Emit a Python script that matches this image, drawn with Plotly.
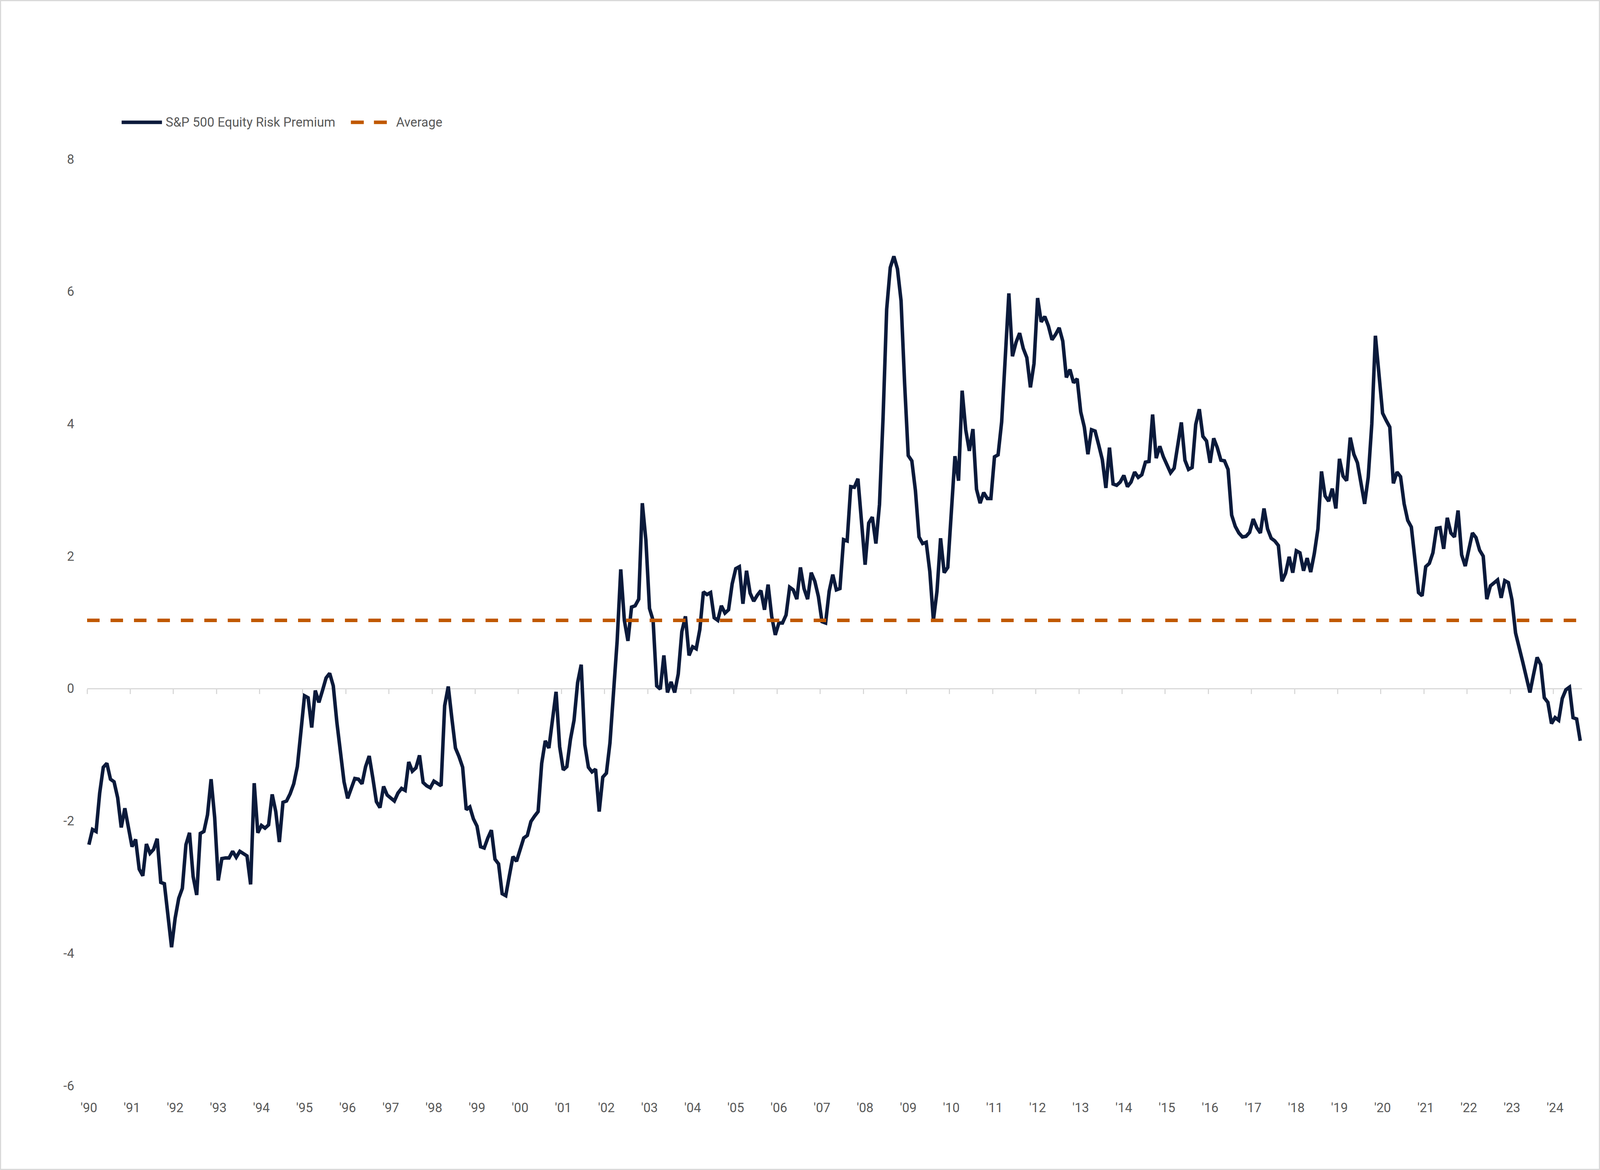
import plotly.graph_objects as go

# ---------------- data ----------------
YEAR_LABELS = ["'90", "'91", "'92", "'93", "'94", "'95", "'96", "'97", "'98", "'99",
               "'00", "'01", "'02", "'03", "'04", "'05", "'06", "'07", "'08", "'09",
               "'10", "'11", "'12", "'13", "'14", "'15", "'16", "'17", "'18", "'19",
               "'20", "'21", "'22", "'23", "'24"]

# Monthly S&P 500 equity risk premium, Jan 1990 - Aug 2024
ERP = [
    -2.36, -2.13, -2.16, -1.58, -1.19, -1.13, -1.37, -1.41, -1.65, -2.10, -1.81, -2.13,  # 1990
    -2.39, -2.28, -2.73, -2.83, -2.35, -2.49, -2.43, -2.27, -2.93, -2.95, -3.45, -3.91,  # 1991
    -3.47, -3.17, -3.02, -2.36, -2.18, -2.84, -3.12, -2.19, -2.16, -1.91, -1.37, -1.95,  # 1992
    -2.90, -2.57, -2.56, -2.56, -2.46, -2.55, -2.46, -2.49, -2.53, -2.96, -1.43, -2.18,  # 1993
    -2.07, -2.11, -2.06, -1.60, -1.86, -2.32, -1.72, -1.70, -1.59, -1.44, -1.18, -0.65,  # 1994
    -0.11, -0.14, -0.59, -0.03, -0.21, -0.03, 0.16, 0.23, 0.04, -0.51, -0.99, -1.41,     # 1995
    -1.66, -1.51, -1.36, -1.37, -1.44, -1.18, -1.02, -1.35, -1.71, -1.80, -1.48, -1.61,  # 1996
    -1.66, -1.70, -1.58, -1.51, -1.54, -1.11, -1.25, -1.20, -1.01, -1.42, -1.47, -1.50,  # 1997
    -1.40, -1.44, -1.47, -0.26, 0.03, -0.45, -0.90, -1.03, -1.19, -1.83, -1.79, -1.97,   # 1998
    -2.08, -2.39, -2.41, -2.26, -2.14, -2.58, -2.65, -3.10, -3.13, -2.83, -2.54, -2.61,  # 1999
    -2.43, -2.26, -2.22, -2.01, -1.93, -1.86, -1.13, -0.79, -0.90, -0.43, -0.05, -0.88,  # 2000
    -1.23, -1.18, -0.77, -0.48, 0.09, 0.36, -0.85, -1.19, -1.26, -1.22, -1.86, -1.34,    # 2001
    -1.28, -0.82, -0.12, 0.72, 1.80, 1.03, 0.72, 1.23, 1.25, 1.35, 2.80, 2.24,           # 2002
    1.21, 1.03, 0.04, -0.01, 0.50, -0.06, 0.10, -0.06, 0.22, 0.86, 1.09, 0.50,           # 2003
    0.63, 0.60, 0.89, 1.46, 1.42, 1.45, 1.07, 1.03, 1.25, 1.14, 1.19, 1.58,              # 2004
    1.81, 1.84, 1.28, 1.78, 1.44, 1.32, 1.41, 1.48, 1.19, 1.57, 1.09, 0.81,              # 2005
    0.99, 0.99, 1.11, 1.53, 1.49, 1.35, 1.83, 1.51, 1.35, 1.75, 1.62, 1.39,              # 2006
    1.01, 0.99, 1.47, 1.72, 1.49, 1.51, 2.25, 2.23, 3.05, 3.04, 3.17, 2.44,              # 2007
    1.87, 2.50, 2.59, 2.19, 2.78, 4.10, 5.73, 6.36, 6.53, 6.34, 5.86, 4.60,              # 2008
    3.52, 3.44, 2.99, 2.29, 2.19, 2.21, 1.77, 1.03, 1.47, 2.27, 1.75, 1.83,              # 2009
    2.78, 3.51, 3.14, 4.50, 3.91, 3.59, 3.92, 3.01, 2.80, 2.96, 2.87, 2.87,              # 2010
    3.50, 3.53, 4.03, 5.03, 5.97, 5.02, 5.23, 5.37, 5.14, 5.00, 4.55, 4.91,              # 2011
    5.90, 5.54, 5.62, 5.48, 5.27, 5.35, 5.45, 5.25, 4.70, 4.82, 4.62, 4.68,              # 2012
    4.18, 3.95, 3.54, 3.91, 3.89, 3.68, 3.46, 3.03, 3.64, 3.09, 3.07, 3.12,              # 2013
    3.22, 3.05, 3.12, 3.27, 3.19, 3.23, 3.42, 3.43, 4.14, 3.48, 3.66, 3.50,              # 2014
    3.39, 3.26, 3.33, 3.67, 4.02, 3.45, 3.31, 3.34, 3.99, 4.22, 3.81, 3.74,              # 2015
    3.41, 3.78, 3.64, 3.45, 3.44, 3.31, 2.62, 2.45, 2.35, 2.29, 2.30, 2.36,              # 2016
    2.56, 2.43, 2.35, 2.72, 2.41, 2.27, 2.23, 2.16, 1.62, 1.74, 1.99, 1.75,              # 2017
    2.08, 2.05, 1.78, 1.97, 1.76, 2.04, 2.41, 3.28, 2.91, 2.83, 3.02, 2.72,              # 2018
    3.47, 3.21, 3.14, 3.79, 3.54, 3.41, 3.08, 2.79, 3.19, 4.00, 5.33, 4.70,              # 2019
    4.16, 4.05, 3.95, 3.10, 3.27, 3.20, 2.79, 2.54, 2.44, 1.95, 1.45, 1.40,              # 2020
    1.84, 1.89, 2.05, 2.42, 2.43, 2.11, 2.58, 2.35, 2.29, 2.69, 2.02, 1.85,              # 2021
    2.08, 2.35, 2.28, 2.09, 2.00, 1.35, 1.55, 1.60, 1.64, 1.37, 1.63, 1.60,              # 2022
    1.34, 0.84, 0.59, 0.40, 0.17, -0.06, 0.21, 0.47, 0.36, -0.14, -0.21, -0.53,          # 2023
    -0.44, -0.48, -0.15, -0.02, 0.02, -0.44, -0.46, -0.79,                               # 2024
]

AVERAGE = 1.03
Y_TICKS = [-6, -4, -2, 0, 2, 4, 6, 8]
Y_TICK_LABELS = ["-6", "-4", "-2", "0", "2", "4", "6", "8"]
SERIES_NAMES = ["S&P 500 Equity Risk Premium", "Average"]

# ---------------- styling ----------------
NAVY = "#0b1a3b"
ORANGE = "#c05800"
TEXT = "#595959"
AXIS_GREY = "#d9d9d9"
FONT = "Roboto"
FS = 33

# reference frame (positions measured on the 4760 x 2994 reference)
REF_W, REF_H = 4760.0, 2994.0
REF_ML, REF_MR, REF_MT, REF_MB = 259.3, 53.7, 407.0, 216.0
REF_PW = REF_W - REF_ML - REF_MR
REF_PH = REF_H - REF_MT - REF_MB

# the browser viewport actually used (layout is rescaled to the window in JS too)
W, H = 4096, 2994
SX, SY = W / REF_W, H / REF_H


def px_x(p):
    return (p - REF_ML) / REF_PW


def px_y(p):
    return (REF_H - REF_MB - p) / REF_PH


months = list(range(len(ERP)))
x_lo, x_hi = months[0] - 0.5, months[-1] + 0.5
y_lo, y_hi = min(Y_TICKS), max(Y_TICKS)
zero_frac = (0 - y_lo) / (y_hi - y_lo)
year_centers = [12 * k for k in range(len(YEAR_LABELS))]
year_bounds = [12 * k - 0.5 for k in range(len(YEAR_LABELS))]

fig = go.Figure()
fig.add_trace(go.Scatter(
    x=months, y=ERP, mode="lines", name=SERIES_NAMES[0],
    line=dict(color=NAVY, width=9), showlegend=False))
fig.add_trace(go.Scatter(
    x=[x_lo, x_hi], y=[AVERAGE, AVERAGE], mode="lines", name=SERIES_NAMES[1],
    line=dict(color=ORANGE, width=9, dash="32px,28px"), showlegend=False))
# invisible helper trace so the label axis is drawn
fig.add_trace(go.Scatter(
    x=[x_lo, x_hi], y=[AVERAGE, AVERAGE], xaxis="x2", mode="lines",
    line=dict(width=0, color="rgba(0,0,0,0)"), opacity=0,
    hoverinfo="skip", showlegend=False))

LEG_Y = 313
shapes = [
    # outer frame
    dict(type="rect", xref="paper", yref="paper",
         x0=px_x(1.5 / SX), x1=px_x(REF_W - 1.5 / SX),
         y0=px_y(REF_H - 1.5), y1=px_y(1.5),
         line=dict(color=AXIS_GREY, width=3), fillcolor="rgba(0,0,0,0)", layer="below"),
    # legend symbols
    dict(type="line", xref="paper", yref="paper", x0=px_x(362), x1=px_x(482),
         y0=px_y(LEG_Y), y1=px_y(LEG_Y), line=dict(color=NAVY, width=9)),
    dict(type="line", xref="paper", yref="paper", x0=px_x(1044), x1=px_x(1152),
         y0=px_y(LEG_Y), y1=px_y(LEG_Y), line=dict(color=ORANGE, width=9, dash="33px,26px")),
]
annotations = [
    dict(xref="paper", yref="paper", x=px_x(490), y=px_y(LEG_Y), text=SERIES_NAMES[0],
         showarrow=False, xanchor="left", yanchor="middle",
         font=dict(family=FONT, size=FS, color=TEXT)),
    dict(xref="paper", yref="paper", x=px_x(1176), y=px_y(LEG_Y), text=SERIES_NAMES[1],
         showarrow=False, xanchor="left", yanchor="middle",
         font=dict(family=FONT, size=FS, color=TEXT)),
]

fig.update_layout(
    template="none",
    width=W, height=H,
    margin=dict(l=REF_ML * SX, r=REF_MR * SX, t=REF_MT * SY, b=REF_MB * SY, autoexpand=False),
    paper_bgcolor="white", plot_bgcolor="white", showlegend=False,
    font=dict(family=FONT, size=FS, color=TEXT),
    xaxis=dict(
        range=[x_lo, x_hi], anchor="free", position=zero_frac,
        showline=True, linecolor=AXIS_GREY, linewidth=3,
        ticks="outside", ticklen=12, tickwidth=3, tickcolor=AXIS_GREY,
        tickmode="array", tickvals=year_bounds, showticklabels=False,
        showgrid=False, zeroline=False, layer="below traces", automargin=False),
    xaxis2=dict(
        range=[x_lo, x_hi], overlaying="x", anchor="y", side="bottom",
        tickmode="array", tickvals=year_centers, ticktext=YEAR_LABELS,
        ticks="", showline=False, showgrid=False, zeroline=False,
        tickfont=dict(family=FONT, size=FS, color=TEXT),
        ticklabelstandoff=34, automargin=False),
    yaxis=dict(
        range=[y_lo, y_hi], domain=[0, 1],
        tickmode="array", tickvals=Y_TICKS, ticktext=Y_TICK_LABELS, ticks="",
        showline=False, showgrid=False, zeroline=False,
        tickfont=dict(family=FONT, size=FS, color=TEXT),
        ticklabelstandoff=32, automargin=False),
    shapes=shapes,
    annotations=annotations,
)

# fit the figure to the browser window, keeping the reference proportions
POST = """
(function () {
  var gd = document.getElementById('{plot_id}');
  document.body.style.margin = '0';
  var w = window.innerWidth, h = window.innerHeight;
  var sx = w / REFW, sy = h / REFH;
  Plotly.relayout(gd, {width: w, height: h,
    'margin.l': REFML * sx, 'margin.r': REFMR * sx,
    'margin.t': REFMT * sy, 'margin.b': REFMB * sy});
})();
"""
for key, val in (("REFW", REF_W), ("REFH", REF_H), ("REFML", REF_ML),
                 ("REFMR", REF_MR), ("REFMT", REF_MT), ("REFMB", REF_MB)):
    POST = POST.replace(key, repr(val))

fig.write_html("out.html", post_script=POST, config={"displayModeBar": False})
